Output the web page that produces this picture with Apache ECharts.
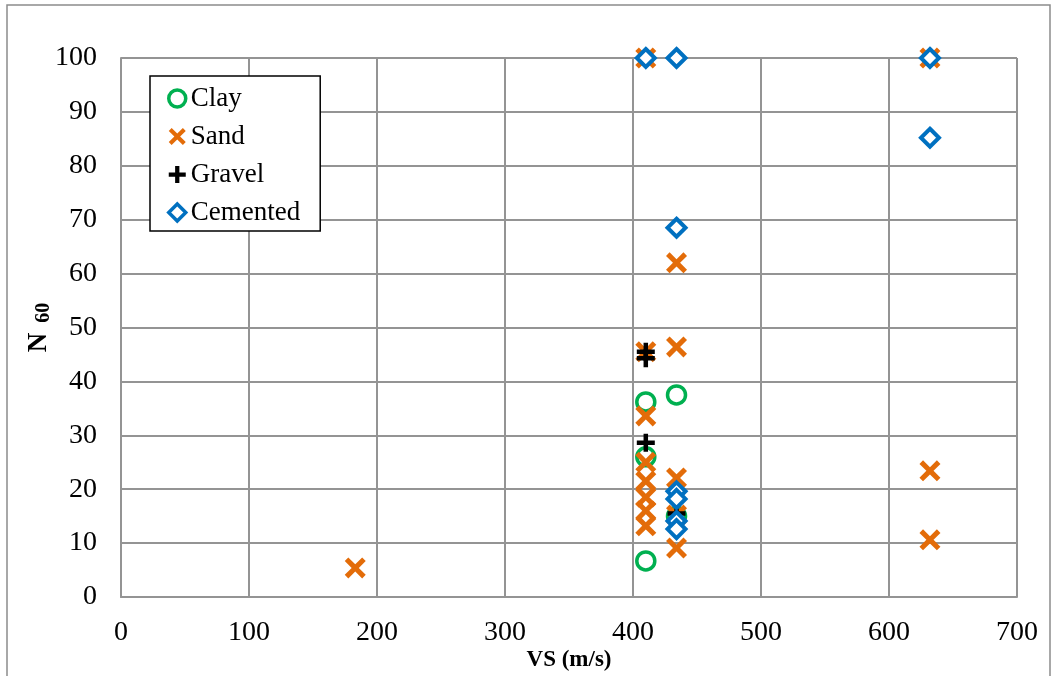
<!DOCTYPE html>
<html>
<head>
<meta charset="utf-8">
<script src="https://cdn.jsdelivr.net/npm/echarts@6/dist/echarts.min.js"></script>
<style>html,body{margin:0;padding:0;background:#fff}#c{width:1058px;height:676px}</style>
</head>
<body>
<div id="c"></div>
<script>
const seriesNames = ['Clay', 'Sand', 'Gravel', 'Cemented'];
const clay = [[410, 36.2], [434, 37.5], [410, 26.0], [410, 6.7], [434, 15.0]];
const sand = [[183, 5.4], [410, 100], [632, 100], [434, 62.0], [434, 46.4], [410, 45.5], [410, 33.6], [410, 25.0], [410, 21.5], [410, 18.5], [410, 16.0], [410, 13.2], [434, 22.1], [434, 15.2], [434, 9.1], [632, 23.4], [632, 10.6]];
const gravel = [[410, 45.5], [410, 44.3], [410, 28.6], [434, 15.5]];
const cemented = [[410, 100], [434, 100], [632, 100], [632, 85.2], [434, 68.5], [434, 19.6], [434, 18.2], [434, 14.1], [434, 12.6]];
const xTicks = {min: 0, max: 700, interval: 100};
const yTicks = {min: 0, max: 100, interval: 10};

const FONT = '"Liberation Serif", "Times New Roman", serif';
const X_PATH = 'path://M0,3.4L3.4,0L10,6.6L16.6,0L20,3.4L13.4,10L20,16.6L16.6,20L10,13.4L3.4,20L0,16.6L6.6,10Z';
const PLUS_PATH = 'path://M7.5,0H12.5V7.5H20V12.5H12.5V20H7.5V12.5H0V7.5H7.5Z';

const clayStyle = {color: 'rgba(255,255,255,0)', borderColor: '#00B050', borderWidth: 3.5, opacity: 1};
const sandStyle = {color: '#E36C09', opacity: 1};
const gravelStyle = {color: '#000', opacity: 1};
const cemStyle = {color: '#fff', borderColor: '#0070C0', borderWidth: 4, opacity: 1};

const chart = echarts.init(document.getElementById('c'));
chart.setOption({
  animation: false,
  backgroundColor: '#fff',
  graphic: [{
    type: 'rect', shape: {x: 7, y: 5, width: 1043, height: 700},
    style: {fill: 'none', stroke: '#8c8c8c', lineWidth: 1.5}, silent: true, z: -1
  }],
  grid: {left: 121, right: 41, top: 58, bottom: 79, containLabel: false, outerBoundsMode: 'none'},
  xAxis: {
    type: 'value', min: xTicks.min, max: xTicks.max, interval: xTicks.interval,
    axisLine: {show: true, lineStyle: {color: '#949494', width: 2}},
    axisTick: {show: false},
    splitLine: {show: true, lineStyle: {color: '#949494', width: 2}},
    axisLabel: {fontFamily: FONT, fontSize: 28, color: '#000', margin: 22},
    name: 'VS (m/s)', nameLocation: 'middle', nameGap: 52, nameMoveOverlap: false,
    nameTextStyle: {fontFamily: FONT, fontSize: 23, fontWeight: 'bold', color: '#000'}
  },
  yAxis: {
    type: 'value', min: yTicks.min, max: yTicks.max, interval: yTicks.interval,
    axisLine: {show: true, lineStyle: {color: '#949494', width: 2}},
    axisTick: {show: false},
    splitLine: {show: true, lineStyle: {color: '#949494', width: 2}},
    axisLabel: {fontFamily: FONT, fontSize: 28, color: '#000', margin: 24},
    name: '{a|N}{b|  60}', nameLocation: 'middle', nameGap: 67, nameRotate: 90, nameMoveOverlap: false,
    nameTextStyle: {
      rich: {
        a: {fontFamily: FONT, fontSize: 27, fontWeight: 'bold', color: '#000'},
        b: {fontFamily: FONT, fontSize: 20, fontWeight: 'bold', color: '#000', verticalAlign: 'bottom', padding: [9, 0, 0, 0]}
      }
    }
  },
  legend: {
    orient: 'vertical', left: 150, top: 76,
    data: [
      {name: seriesNames[0], itemStyle: {borderWidth: 3.5}},
      {name: seriesNames[1]},
      {name: seriesNames[2]},
      {name: seriesNames[3], itemStyle: {borderWidth: 3.5}}
    ],
    backgroundColor: '#fff',
    borderColor: '#000', borderWidth: 1.5,
    padding: [7, 20, 3, 17],
    itemWidth: 17, itemHeight: 17, itemGap: 7,
    textStyle: {fontFamily: FONT, fontSize: 27, color: '#000', lineHeight: 31, padding: [0, 0, 0, 0]}
  },
  series: [
    {name: seriesNames[0], type: 'scatter', data: clay, symbol: 'circle', symbolSize: 18, itemStyle: clayStyle},
    {name: seriesNames[1], type: 'scatter', data: sand, symbol: X_PATH, symbolSize: 21, itemStyle: sandStyle},
    {name: seriesNames[2], type: 'scatter', data: gravel, symbol: PLUS_PATH, symbolSize: 18, itemStyle: gravelStyle},
    {name: seriesNames[3], type: 'scatter', data: cemented, symbol: 'diamond', symbolSize: 18, itemStyle: cemStyle}
  ]
});
</script>
</body>
</html>
